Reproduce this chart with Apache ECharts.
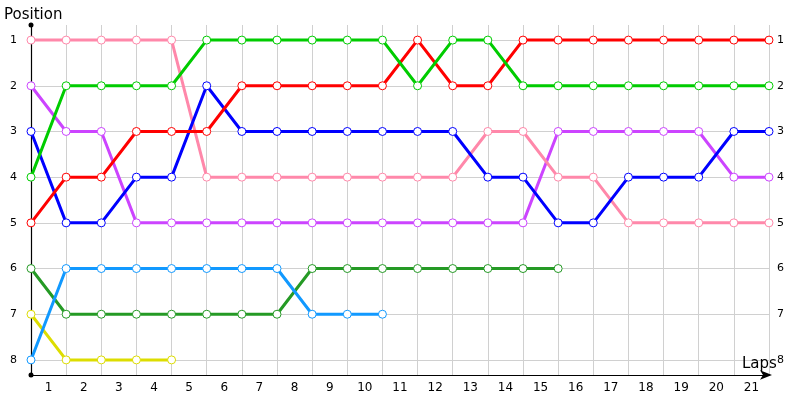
<!DOCTYPE html>
<html><head><meta charset="utf-8">
<script src="https://cdn.jsdelivr.net/npm/echarts@6/dist/echarts.min.js"></script>
<style>html,body{margin:0;padding:0;background:#fff}#c{width:800px;height:400px}</style>
</head><body><div id="c"></div>
<script>
const lapIndex = [0,1,2,3,4,5,6,7,8,9,10,11,12,13,14,15,16,17,18,19,20,21];
const lapLabels = ['1','2','3','4','5','6','7','8','9','10','11','12','13','14','15','16','17','18','19','20','21'];

const posRed       = [5,4,4,3,3,3,2,2,2,2,2,1,2,2,1,1,1,1,1,1,1,1];
const posGreen     = [4,2,2,2,2,1,1,1,1,1,1,2,1,1,2,2,2,2,2,2,2,2];
const posPink      = [1,1,1,1,1,4,4,4,4,4,4,4,4,3,3,4,4,5,5,5,5,5];
const posBlue      = [3,5,5,4,4,2,3,3,3,3,3,3,3,4,4,5,5,4,4,4,3,3];
const posPurple    = [2,3,3,5,5,5,5,5,5,5,5,5,5,5,5,3,3,3,3,3,4,4];
const posLightBlue = [8,6,6,6,6,6,6,6,7,7,7];
const posDarkGreen = [6,7,7,7,7,7,7,7,6,6,6,6,6,6,6,6];
const posYellow    = [7,8,8,8,8];

const seriesDefs = [
  {name:'Yellow', color:'#dddd00', pos: posYellow},
  {name:'Dark green', color:'#259a25', pos: posDarkGreen},
  {name:'Light blue', color:'#1199ff', pos: posLightBlue},
  {name:'Purple', color:'#cc44ff', pos: posPurple},
  {name:'Pink', color:'#ff88aa', pos: posPink},
  {name:'Blue', color:'#0000ff', pos: posBlue},
  {name:'Red', color:'#ff0000', pos: posRed},
  {name:'Green', color:'#00cc00', pos: posGreen}
];

const FONT = 'DejaVu Sans';
const yCommon = {
  type:'value', inverse:true, min:0.67, max:8.33, minInterval:1, maxInterval:1, splitNumber:8,
  axisTick:{show:false},
  axisLabel:{showMinLabel:false, showMaxLabel:false, fontFamily:FONT, fontSize:11, color:'#000',
    formatter: v => (Math.abs(v - Math.round(v)) < 1e-6 ? String(Math.round(v)) : '')}
};

const chart = echarts.init(document.getElementById('c'), null, {renderer:'canvas'});
chart.setOption({
  animation:false,
  backgroundColor:'#fff',
  title:[
    {text:'Position', left:4, top:8, padding:0, textStyle:{fontFamily:FONT, fontSize:15, fontWeight:'normal', color:'#000'}},
    {text:'Laps', left:742, top:357, padding:0, textStyle:{fontFamily:FONT, fontSize:15, fontWeight:'normal', color:'#000'}}
  ],
  grid:{left:31, right:31, top:25, bottom:25, containLabel:false},
  xAxis:[
    {type:'value', min:0, max:21, interval:1,
     axisLine:{show:true, lineStyle:{color:'#000', width:1.2}, symbol:['none','arrow'], symbolSize:[7,12], symbolOffset:[0,3]},
     axisTick:{show:false}, axisLabel:{show:false},
     splitLine:{show:true, showMinLine:false, lineStyle:{color:'#d0d0d0', width:1}}},
    {type:'category', position:'bottom', data:lapLabels, boundaryGap:true,
     axisLine:{show:false}, axisTick:{show:false}, splitLine:{show:false},
     axisLabel:{margin:7, fontFamily:FONT, fontSize:12, color:'#000', interval:0}}
  ],
  yAxis:[
    Object.assign({}, yCommon, {position:'left',
      axisLine:{show:true, lineStyle:{color:'#000', width:1.2}, symbol:['circle','circle'], symbolSize:[5,5]},
      axisLabel:Object.assign({}, yCommon.axisLabel, {margin:14}),
      splitLine:{show:true, showMinLine:false, showMaxLine:false, lineStyle:{color:'#d0d0d0', width:1}}}),
    Object.assign({}, yCommon, {position:'right',
      axisLine:{show:false},
      axisLabel:Object.assign({}, yCommon.axisLabel, {margin:8}),
      splitLine:{show:false}})
  ],
  series: seriesDefs.map(d => ({
    name:d.name, type:'line', xAxisIndex:0, yAxisIndex:0,
    data:d.pos.map((p,i)=>[lapIndex[i], p]),
    symbol:'circle', symbolSize:8, showSymbol:true,
    lineStyle:{color:d.color, width:3},
    itemStyle:{color:'#fff', borderColor:d.color, borderWidth:1},
    emphasis:{disabled:true}
  }))
});
</script></body></html>
